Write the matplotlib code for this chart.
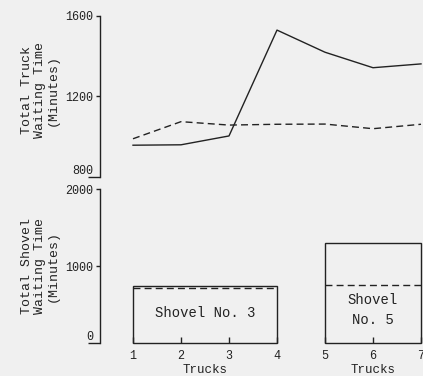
"""Truck and shovel waiting times against fleet size."""

from __future__ import annotations

import matplotlib

matplotlib.use("Agg")

import matplotlib.pyplot as plt

TRUCKS = [1, 2, 3, 4, 5, 6, 7]
TRUCK_WAIT_SOLID = [958, 960, 1004, 1530, 1420, 1343, 1362]
TRUCK_WAIT_DASHED = [990, 1075, 1058, 1062, 1063, 1040, 1062]

SHOVEL_NAMES = ["Shovel No. 3", "Shovel\nNo. 5"]
SHOVEL_FIRST_TRUCK = [1, 5]
SHOVEL_LAST_TRUCK = [4, 7]
SHOVEL_WAIT_SOLID = [747, 1304]
SHOVEL_WAIT_DASHED = [712, 756]
SHOVEL_TEXT_Y = [395, 430]

TRUCK_TICKS = [800, 1200, 1600]
SHOVEL_TICKS = [0, 1000, 2000]

FONT = "Liberation Mono"
INK = "#222222"
PAPER = "#f0f0f0"
DASH = (0, (5, 3))

W, H = 423, 376


def px_axes(fig, left, top, right, bottom):
    return fig.add_axes([left / W, 1 - bottom / H, (right - left) / W, (bottom - top) / H])


def style_left_axis(ax, ticks):
    for side in ("top", "right", "bottom"):
        ax.spines[side].set_visible(False)
    ax.spines["left"].set_color(INK)
    ax.spines["left"].set_linewidth(1.0)
    ax.set_facecolor("none")
    ax.set_yticks(ticks, labels=[str(t) for t in ticks])
    ax.tick_params(axis="y", length=3, width=1.0, pad=2, colors=INK, labelsize=8.5)
    for lab in ax.get_yticklabels():
        lab.set_fontfamily(FONT)
    # lowest tick is drawn as a longer stub with its label sitting on top
    ax.yaxis.get_major_ticks()[0].tick1line.set_markersize(9)
    ax.get_yticklabels()[0].set_va("bottom")


def main() -> None:
    fig = plt.figure(figsize=(W / 100, H / 100), dpi=100)
    fig.patch.set_facecolor(PAPER)
    xlim = (1 - 33 / 48, 7 + 2 / 48)

    # upper panel: truck waiting time
    ax_top = px_axes(fig, 100, 16, W, 177)
    ax_top.plot(TRUCKS, TRUCK_WAIT_SOLID, color=INK, lw=1.0)
    ax_top.plot(TRUCKS, TRUCK_WAIT_DASHED, color=INK, lw=1.0, linestyle=DASH)
    ax_top.set_xlim(*xlim)
    ax_top.set_ylim(800, 1600)
    ax_top.set_xticks([])
    style_left_axis(ax_top, TRUCK_TICKS)

    # lower panel: shovel waiting time per shovel group
    ax_bot = px_axes(fig, 100, 189.3, W, 343.3)
    widths = [b - a for a, b in zip(SHOVEL_FIRST_TRUCK, SHOVEL_LAST_TRUCK)]
    bars = ax_bot.bar(SHOVEL_FIRST_TRUCK, SHOVEL_WAIT_SOLID, width=widths, align="edge",
                      fill=False, edgecolor=INK, linewidth=1.0)
    for bar in bars:
        bar.set_clip_on(False)
    ax_bot.hlines(SHOVEL_WAIT_DASHED, SHOVEL_FIRST_TRUCK, SHOVEL_LAST_TRUCK,
                  colors=INK, linewidth=1.0, linestyles=DASH)
    for name, start, end, ty in zip(SHOVEL_NAMES, SHOVEL_FIRST_TRUCK, SHOVEL_LAST_TRUCK, SHOVEL_TEXT_Y):
        mid = (start + end) / 2
        ax_bot.text(mid, ty, name, ha="center", va="center", fontsize=10,
                    family=FONT, color=INK, linespacing=1.5)
        ax_bot.annotate("Trucks", xy=(mid, 0), xycoords=("data", "axes fraction"),
                        xytext=(0, -19.5), textcoords="offset points", ha="center",
                        va="center", fontsize=9, family=FONT, color=INK)
    ax_bot.set_xlim(*xlim)
    ax_bot.set_ylim(0, 2000)
    ax_bot.set_xticks(TRUCKS, labels=[str(t) for t in TRUCKS])
    ax_bot.tick_params(axis="x", direction="in", length=4, width=1.0, pad=5,
                       colors=INK, labelsize=8.5)
    for lab in ax_bot.get_xticklabels():
        lab.set_fontfamily(FONT)
    style_left_axis(ax_bot, SHOVEL_TICKS)

    label_kw = dict(rotation=90, ha="center", va="center", fontsize=9.5,
                    family=FONT, color=INK, linespacing=1.1, multialignment="center")
    fig.text(40 / W, 1 - 90 / H, "Total Truck\nWaiting Time\n(Minutes)", **label_kw)
    fig.text(40 / W, 1 - 266 / H, "Total Shovel\nWaiting Time\n(Minutes)", **label_kw)

    fig.savefig("out.png", dpi=100, facecolor=PAPER)
    plt.close(fig)


if __name__ == "__main__":
    main()
